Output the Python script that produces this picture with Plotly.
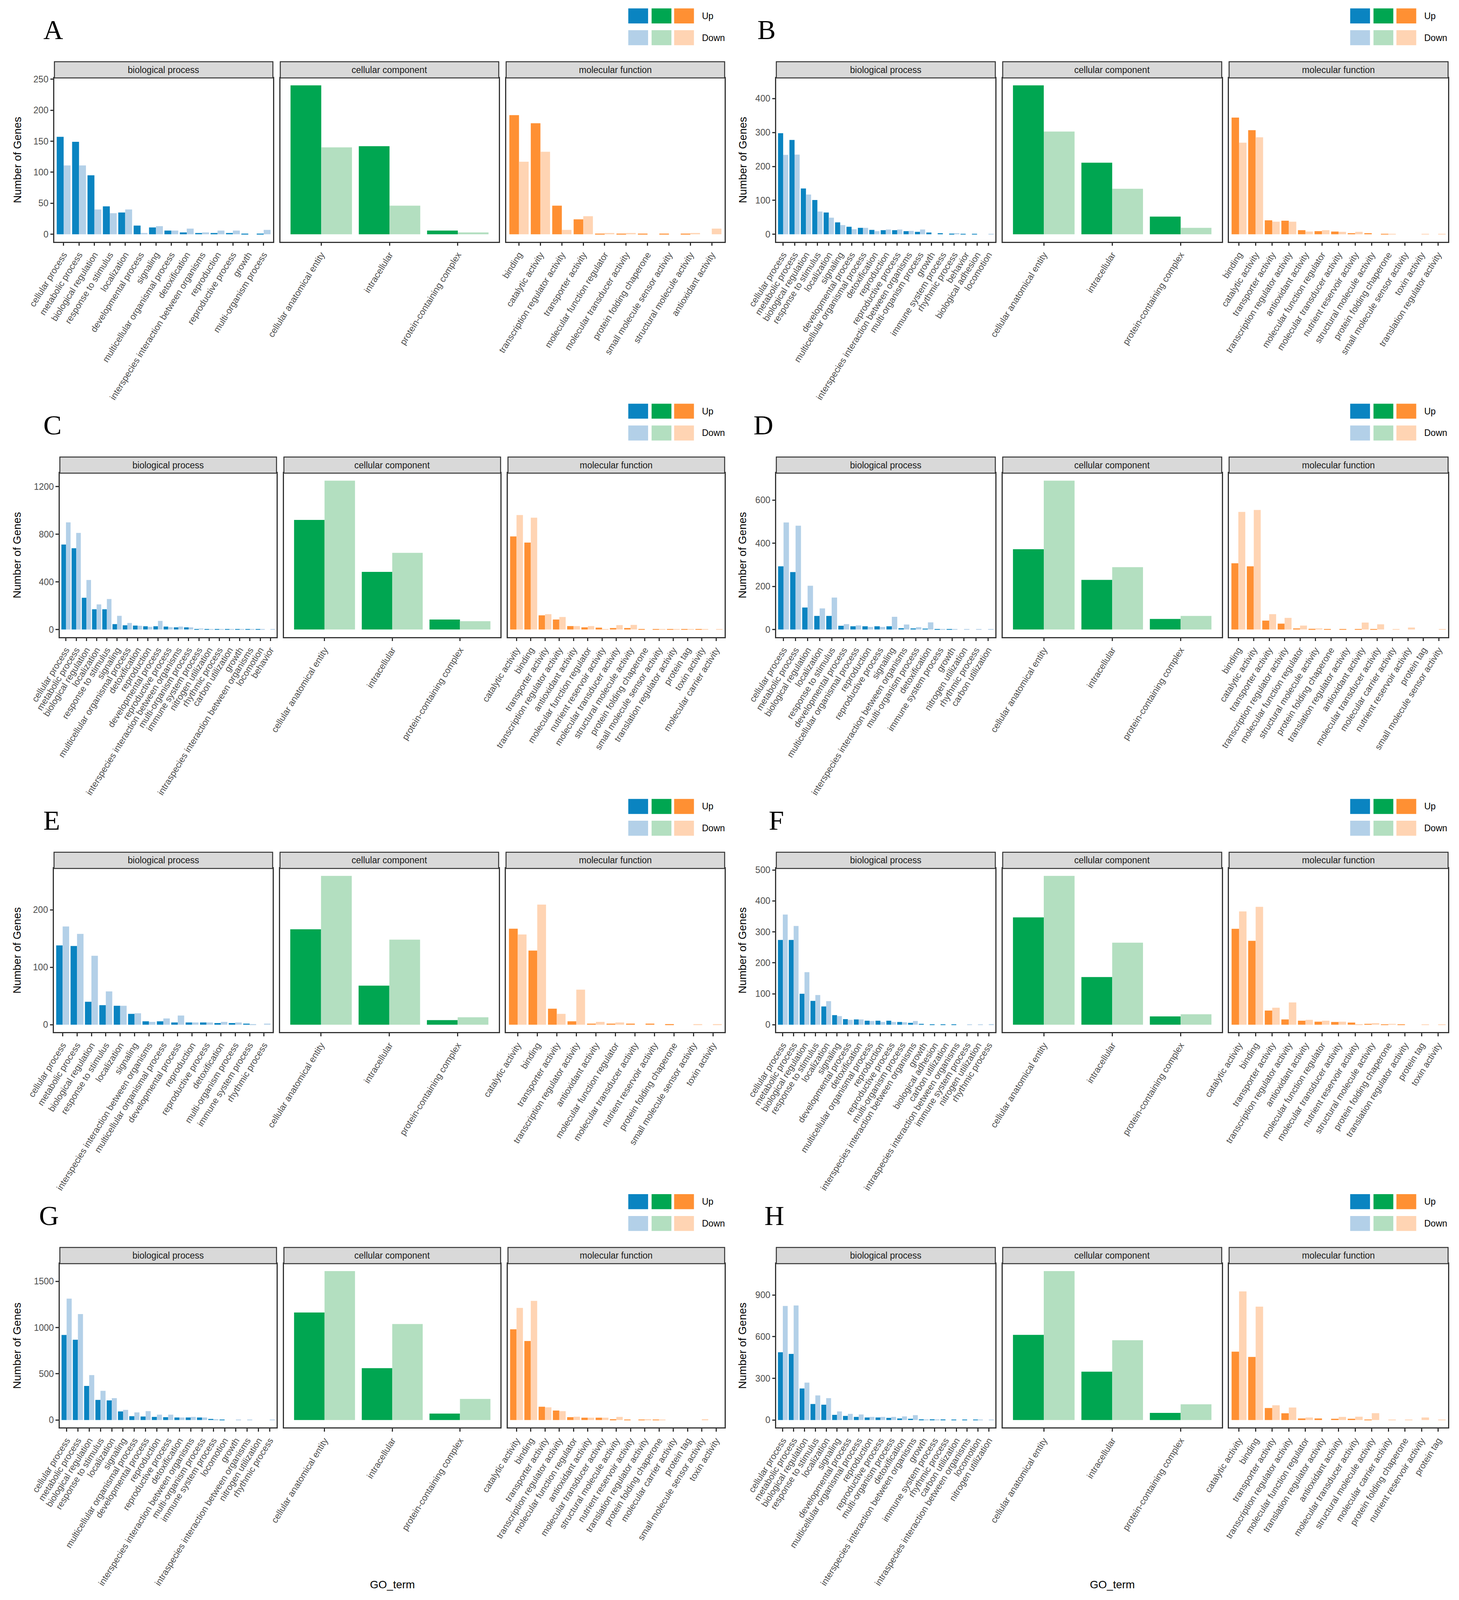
import plotly.graph_objects as go

# ---------------- data ----------------
# A
a_bp_terms = ["cellular process", "metabolic process", "biological regulation", "response to stimulus",
              "localization", "developmental process", "signaling", "multicellular organismal process",
              "detoxification", "interspecies interaction between organisms", "reproduction",
              "reproductive process", "growth", "multi-organism process"]
a_bp_up = [157, 149, 95, 45, 35, 14, 11, 6, 3, 2, 2, 2, 1, 1]
a_bp_down = [111, 111, 40, 34, 40, 2, 13, 6, 9, 3, 6, 6, 0, 7]
a_cc_terms = ["cellular anatomical entity", "intracellular", "protein-containing complex"]
a_cc_up = [240, 142, 6]
a_cc_down = [140, 46, 3]
a_mf_terms = ["binding", "catalytic activity", "transcription regulator activity", "transporter activity",
              "molecular function regulator", "molecular transducer activity", "protein folding chaperone",
              "small molecule sensor activity", "structural molecule activity", "antioxidant activity"]
a_mf_up = [192, 179, 46, 24, 1, 1, 1, 1, 1, 0]
a_mf_down = [117, 133, 7, 29, 2, 2, 0, 0, 2, 9]

# B
b_bp_terms = ["cellular process", "metabolic process", "biological regulation", "response to stimulus",
              "localization", "signaling", "developmental process", "multicellular organismal process",
              "detoxification", "reproduction", "reproductive process",
              "interspecies interaction between organisms", "multi-organism process", "growth",
              "immune system process", "rhythmic process", "behavior", "biological adhesion", "locomotion"]
b_bp_up = [298, 278, 135, 101, 64, 35, 22, 19, 13, 12, 12, 9, 7, 5, 3, 2, 1, 1, 0]
b_bp_down = [234, 235, 117, 67, 49, 27, 15, 19, 9, 14, 14, 10, 14, 0, 0, 3, 0, 0, 1]
b_cc_terms = ["cellular anatomical entity", "intracellular", "protein-containing complex"]
b_cc_up = [439, 211, 52]
b_cc_down = [303, 134, 19]
b_mf_terms = ["binding", "catalytic activity", "transporter activity", "transcription regulator activity",
              "antioxidant activity", "molecular function regulator", "molecular transducer activity",
              "nutrient reservoir activity", "structural molecule activity", "protein folding chaperone",
              "small molecule sensor activity", "toxin activity", "translation regulator activity"]
b_mf_up = [344, 307, 41, 40, 12, 9, 8, 3, 3, 1, 0, 0, 0]
b_mf_down = [270, 286, 37, 37, 8, 12, 7, 7, 0, 1, 0, 1, 1]

# C
c_bp_terms = ["cellular process", "metabolic process", "biological regulation", "localization",
              "response to stimulus", "signaling", "multicellular organismal process", "detoxification",
              "reproduction", "developmental process", "reproductive process",
              "interspecies interaction between organisms", "multi-organism process", "immune system process",
              "nitrogen utilization", "rhythmic process", "carbon utilization", "growth",
              "intraspecies interaction between organisms", "locomotion", "behavior"]
c_bp_up = [714, 683, 267, 170, 170, 45, 35, 33, 27, 27, 25, 18, 18, 4, 2, 2, 1, 2, 1, 1, 0]
c_bp_down = [900, 812, 416, 211, 256, 115, 55, 31, 22, 72, 20, 25, 18, 8, 1, 3, 1, 4, 2, 1, 1]
c_cc_terms = ["cellular anatomical entity", "intracellular", "protein-containing complex"]
c_cc_up = [921, 484, 84]
c_cc_down = [1251, 644, 70]
c_mf_terms = ["catalytic activity", "binding", "transporter activity", "transcription regulator activity",
              "antioxidant activity", "molecular function regulator", "nutrient reservoir activity",
              "molecular transducer activity", "structural molecule activity", "protein folding chaperone",
              "small molecule sensor activity", "translation regulator activity", "protein tag",
              "toxin activity", "molecular carrier activity"]
c_mf_up = [782, 730, 119, 84, 29, 18, 16, 12, 12, 4, 2, 2, 1, 1, 0]
c_mf_down = [962, 940, 129, 105, 29, 29, 4, 37, 39, 0, 2, 2, 1, 2, 1]

# D
d_bp_terms = ["cellular process", "metabolic process", "biological regulation", "localization",
              "response to stimulus", "developmental process", "multicellular organismal process",
              "reproduction", "reproductive process", "signaling",
              "interspecies interaction between organisms", "multi-organism process", "detoxification",
              "immune system process", "growth", "nitrogen utilization", "rhythmic process",
              "carbon utilization"]
d_bp_up = [293, 266, 102, 63, 63, 17, 15, 15, 15, 15, 6, 5, 4, 1, 1, 0, 0, 0]
d_bp_down = [496, 481, 203, 98, 148, 25, 19, 12, 12, 59, 23, 11, 33, 1, 1, 1, 1, 1]
d_cc_terms = ["cellular anatomical entity", "intracellular", "protein-containing complex"]
d_cc_up = [372, 230, 49]
d_cc_down = [690, 289, 63]
d_mf_terms = ["binding", "catalytic activity", "transporter activity", "transcription regulator activity",
              "molecular function regulator", "structural molecule activity", "protein folding chaperone",
              "translation regulator activity", "antioxidant activity", "molecular transducer activity",
              "molecular carrier activity", "nutrient reservoir activity", "protein tag",
              "small molecule sensor activity"]
d_mf_up = [307, 293, 41, 27, 5, 3, 1, 1, 1, 1, 0, 0, 0, 0]
d_mf_down = [545, 554, 71, 54, 18, 5, 0, 0, 32, 24, 1, 9, 0, 1]

# E
e_bp_terms = ["cellular process", "metabolic process", "biological regulation", "response to stimulus",
              "localization", "signaling", "interspecies interaction between organisms",
              "multicellular organismal process", "developmental process", "reproduction",
              "reproductive process", "detoxification", "multi-organism process", "immune system process",
              "rhythmic process"]
e_bp_up = [138, 137, 40, 34, 33, 19, 6, 6, 4, 4, 4, 3, 3, 2, 0]
e_bp_down = [171, 158, 120, 58, 33, 20, 5, 11, 16, 4, 4, 5, 4, 1, 2]
e_cc_terms = ["cellular anatomical entity", "intracellular", "protein-containing complex"]
e_cc_up = [166, 68, 8]
e_cc_down = [259, 148, 13]
e_mf_terms = ["catalytic activity", "binding", "transporter activity", "transcription regulator activity",
              "antioxidant activity", "molecular function regulator", "molecular transducer activity",
              "nutrient reservoir activity", "protein folding chaperone", "small molecule sensor activity",
              "toxin activity"]
e_mf_up = [167, 129, 28, 6, 2, 2, 2, 2, 1, 0, 0]
e_mf_down = [157, 209, 19, 61, 5, 4, 0, 0, 0, 1, 1]

# F
f_bp_terms = ["cellular process", "metabolic process", "biological regulation", "response to stimulus",
              "localization", "signaling", "developmental process", "detoxification",
              "multicellular organismal process", "reproduction", "reproductive process",
              "multi-organism process", "interspecies interaction between organisms", "growth",
              "biological adhesion", "carbon utilization", "intraspecies interaction between organisms",
              "immune system process", "nitrogen utilization", "rhythmic process"]
f_bp_up = [274, 274, 100, 77, 59, 31, 18, 17, 13, 13, 13, 9, 6, 3, 1, 1, 1, 0, 0, 0]
f_bp_down = [356, 319, 170, 96, 76, 28, 16, 17, 12, 9, 9, 8, 12, 0, 0, 0, 0, 1, 1, 2]
f_cc_terms = ["cellular anatomical entity", "intracellular", "protein-containing complex"]
f_cc_up = [347, 154, 27]
f_cc_down = [481, 265, 34]
f_mf_terms = ["catalytic activity", "binding", "transporter activity", "transcription regulator activity",
              "antioxidant activity", "molecular function regulator", "molecular transducer activity",
              "nutrient reservoir activity", "structural molecule activity", "protein folding chaperone",
              "translation regulator activity", "protein tag", "toxin activity"]
f_mf_up = [310, 271, 46, 17, 13, 10, 9, 7, 3, 1, 1, 0, 0]
f_mf_down = [366, 381, 55, 72, 16, 13, 10, 2, 5, 3, 0, 1, 1]

# G
g_bp_terms = ["cellular process", "metabolic process", "biological regulation", "response to stimulus",
              "localization", "signaling", "multicellular organismal process", "developmental process",
              "reproduction", "reproductive process", "detoxification",
              "interspecies interaction between organisms", "multi-organism process", "immune system process",
              "locomotion", "growth", "intraspecies interaction between organisms", "nitrogen utilization",
              "rhythmic process"]
g_bp_up = [920, 868, 368, 217, 212, 93, 41, 38, 33, 30, 27, 27, 27, 11, 3, 0, 0, 0, 0]
g_bp_down = [1313, 1146, 486, 316, 236, 110, 82, 96, 58, 58, 27, 33, 27, 8, 0, 5, 3, 0, 1]
g_cc_terms = ["cellular anatomical entity", "intracellular", "protein-containing complex"]
g_cc_up = [1162, 560, 69]
g_cc_down = [1610, 1038, 228]
g_mf_terms = ["catalytic activity", "binding", "transporter activity", "transcription regulator activity",
              "molecular function regulator", "antioxidant activity", "molecular transducer activity",
              "structural molecule activity", "nutrient reservoir activity", "translation regulator activity",
              "protein folding chaperone", "molecular carrier activity", "protein tag",
              "small molecule sensor activity", "toxin activity"]
g_mf_up = [981, 854, 143, 102, 30, 25, 25, 8, 3, 3, 3, 0, 0, 0, 0]
g_mf_down = [1212, 1288, 137, 96, 36, 25, 25, 33, 0, 8, 3, 0, 0, 8, 0]

# H
h_bp_terms = ["cellular process", "metabolic process", "biological regulation", "response to stimulus",
              "localization", "signaling", "developmental process", "multicellular organismal process",
              "reproduction", "reproductive process", "multi-organism process", "detoxification",
              "interspecies interaction between organisms", "growth", "immune system process",
              "rhythmic process", "carbon utilization", "intraspecies interaction between organisms",
              "locomotion", "nitrogen utilization"]
h_bp_up = [488, 476, 227, 115, 110, 37, 29, 22, 18, 18, 15, 11, 9, 5, 5, 4, 2, 2, 2, 0]
h_bp_down = [821, 825, 269, 177, 157, 62, 44, 40, 22, 22, 22, 26, 35, 4, 4, 0, 0, 0, 1, 1]
h_cc_terms = ["cellular anatomical entity", "intracellular", "protein-containing complex"]
h_cc_up = [613, 348, 51]
h_cc_down = [1072, 574, 113]
h_mf_terms = ["catalytic activity", "binding", "transporter activity", "transcription regulator activity",
              "molecular function regulator", "translation regulator activity", "antioxidant activity",
              "molecular transducer activity", "structural molecule activity", "molecular carrier activity",
              "protein folding chaperone", "nutrient reservoir activity", "protein tag"]
h_mf_up = [492, 454, 86, 48, 11, 11, 9, 9, 2, 0, 0, 0, 0]
h_mf_down = [926, 816, 106, 90, 18, 0, 22, 24, 49, 2, 2, 18, 2]

panel_letters = ["A", "B", "C", "D", "E", "F", "G", "H"]
y_steps = [50, 100, 400, 200, 100, 100, 500, 300]
facet_names = ["biological process", "cellular component", "molecular function"]

PANELS = [
    [(a_bp_terms, a_bp_up, a_bp_down), (a_cc_terms, a_cc_up, a_cc_down), (a_mf_terms, a_mf_up, a_mf_down)],
    [(b_bp_terms, b_bp_up, b_bp_down), (b_cc_terms, b_cc_up, b_cc_down), (b_mf_terms, b_mf_up, b_mf_down)],
    [(c_bp_terms, c_bp_up, c_bp_down), (c_cc_terms, c_cc_up, c_cc_down), (c_mf_terms, c_mf_up, c_mf_down)],
    [(d_bp_terms, d_bp_up, d_bp_down), (d_cc_terms, d_cc_up, d_cc_down), (d_mf_terms, d_mf_up, d_mf_down)],
    [(e_bp_terms, e_bp_up, e_bp_down), (e_cc_terms, e_cc_up, e_cc_down), (e_mf_terms, e_mf_up, e_mf_down)],
    [(f_bp_terms, f_bp_up, f_bp_down), (f_cc_terms, f_cc_up, f_cc_down), (f_mf_terms, f_mf_up, f_mf_down)],
    [(g_bp_terms, g_bp_up, g_bp_down), (g_cc_terms, g_cc_up, g_cc_down), (g_mf_terms, g_mf_up, g_mf_down)],
    [(h_bp_terms, h_bp_up, h_bp_down), (h_cc_terms, h_cc_up, h_cc_down), (h_mf_terms, h_mf_up, h_mf_down)],
]

UP_COLORS = ["#0A84C1", "#00A651", "#FF9033"]
DOWN_COLORS = ["#B3D0E8", "#B3DFC0", "#FFD4B3"]

# ---------------- layout (positions given in pixels of a 3735 x 5406 page) ----------------
W, H = 3735, 5406
ROW_STEP = 1342
STRIP_TOP, STRIP_BOTTOM, PANEL_BOTTOM = 199, 254, 810
COL_X0 = [0, 1867]
PLOT_LEFT = [132, 1990, 146, 1990, 131, 1990, 146, 1990]
PLOT_RIGHT = [1857, 3719]
FACET_GAP = 19
LETTER_X = [102, 1939, 102, 1929, 102, 1969, 90, 1957]
KEY_X = [[1609, 1669, 1727], [3467, 3527, 3586]]
KEY_SIZE = 51
KEY_Y = [18, 92]
LINE = "#333333"
TEXT = "#4D4D4D"
FONT = "Liberation Sans, Arial, Helvetica, sans-serif"

# the page the figure lands on is shorter than the 5406 px original,
# so text is shrunk a little to keep the rows from running into each other
FS = 0.8
TICK_FS = round(29 * FS)
STRIP_FS = round(29 * FS)
TITLE_FS = round(35 * FS)
LETTER_FS = round(88 * FS)


def px(x):
    return x / W


def py(y):
    return 1 - y / H


def label(text, x, y, size, **kw):
    # paper-anchored text, centred on (x, y) unless told otherwise
    d = dict(text=text, xref="paper", yref="paper", x=px(x), y=py(y),
             xanchor="center", yanchor="middle", showarrow=False,
             font=dict(size=size, color="black", family=FONT))
    d.update(kw)
    return d


fig = go.Figure()
layout = {}
shapes = []
annotations = []

for p, facets in enumerate(PANELS):
    row, col = divmod(p, 2)
    yo = ROW_STEP * row
    left = PLOT_LEFT[p]
    right = PLOT_RIGHT[col]
    fw = (right - left - 2 * FACET_GAP) / 3
    ymax = max(max(up + down) for _, up, down in facets)

    for f, (terms, up, down) in enumerate(facets):
        n = p * 3 + f + 1
        xa = "x" if n == 1 else f"x{n}"
        ya = "y" if n == 1 else f"y{n}"
        x0 = left + f * (fw + FACET_GAP)
        x1 = x0 + fw

        fig.add_trace(go.Bar(x=terms, y=up, name="Up", xaxis=xa, yaxis=ya,
                             marker=dict(color=UP_COLORS[f], line=dict(width=0)),
                             showlegend=False))
        fig.add_trace(go.Bar(x=terms, y=down, name="Down", xaxis=xa, yaxis=ya,
                             marker=dict(color=DOWN_COLORS[f], line=dict(width=0)),
                             showlegend=False))

        layout["xaxis" if n == 1 else f"xaxis{n}"] = dict(
            domain=[px(x0), px(x1)], anchor=ya, type="category",
            range=[-0.6, len(terms) - 0.4],
            tickmode="array", tickvals=terms, ticktext=terms, tickangle=-58,
            tickfont=dict(size=TICK_FS, color=TEXT, family=FONT),
            ticks="outside", ticklen=8, tickwidth=2.5, tickcolor=LINE,
            showline=True, mirror=True, linecolor=LINE, linewidth=2.5,
            showgrid=False, zeroline=False, automargin=False,
        )
        layout["yaxis" if n == 1 else f"yaxis{n}"] = dict(
            domain=[py(PANEL_BOTTOM + yo), py(STRIP_BOTTOM + yo)], anchor=xa,
            range=[-0.05 * ymax, 1.05 * ymax],
            tickmode="linear", tick0=0, dtick=y_steps[p],
            showticklabels=(f == 0), ticks="outside" if f == 0 else "",
            ticklen=8, tickwidth=2.5, tickcolor=LINE,
            tickfont=dict(size=TICK_FS, color=TEXT, family=FONT),
            showline=True, mirror=True, linecolor=LINE, linewidth=2.5,
            showgrid=False, zeroline=False, automargin=False,
        )

        # facet strip
        shapes.append(dict(type="rect", xref="paper", yref="paper",
                           x0=px(x0), x1=px(x1), y0=py(STRIP_BOTTOM + yo), y1=py(STRIP_TOP + yo),
                           fillcolor="#D9D9D9", line=dict(color=LINE, width=2.5)))
        annotations.append(label(facet_names[f], (x0 + x1) / 2, (STRIP_TOP + STRIP_BOTTOM) / 2 + yo, STRIP_FS,
                                 font=dict(size=STRIP_FS, color="#1A1A1A", family=FONT)))

    # y title
    annotations.append(label("Number of Genes", COL_X0[col] + 36, (STRIP_BOTTOM + PANEL_BOTTOM) / 2 + yo,
                             TITLE_FS, textangle=-90))
    # panel letter
    annotations.append(label(panel_letters[p], LETTER_X[p], 91 + yo, LETTER_FS, xanchor="left",
                             font=dict(size=LETTER_FS, color="black",
                                       family="Liberation Serif, Times New Roman, serif")))
    # legend keys
    for k in range(3):
        for r, colors in enumerate([UP_COLORS, DOWN_COLORS]):
            kx = KEY_X[col][k]
            ky = KEY_Y[r] + yo
            shapes.append(dict(type="rect", xref="paper", yref="paper",
                               x0=px(kx), x1=px(kx + KEY_SIZE), y0=py(ky + KEY_SIZE), y1=py(ky),
                               fillcolor=colors[k], line=dict(width=0)))
    for r, name in enumerate(["Up", "Down"]):
        annotations.append(label(name, KEY_X[col][2] + KEY_SIZE + 19, KEY_Y[r] + KEY_SIZE / 2 + yo, STRIP_FS,
                                 xanchor="left"))
    # x title only on the last row
    if row == 3:
        annotations.append(label("GO_term", (left + right) / 2, 5369, TITLE_FS))

# size follows the browser window, so the whole figure is always on the page
fig.update_layout(
    autosize=True,
    margin=dict(l=0, r=0, t=0, b=0),
    paper_bgcolor="white", plot_bgcolor="white",
    barmode="group", bargap=0.1, bargroupgap=0,
    font=dict(family=FONT),
    showlegend=False,
    shapes=shapes, annotations=annotations,
    **layout,
)

fig.write_html("out.html", default_width="calc(100vw - 20px)", default_height="calc(100vh - 20px)")
